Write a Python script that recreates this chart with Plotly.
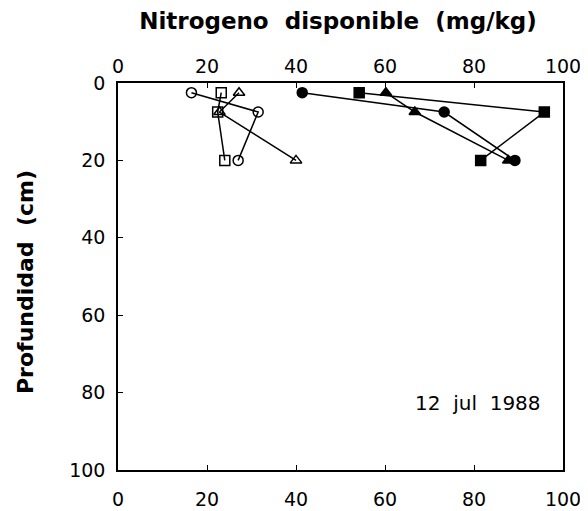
import plotly.graph_objects as go

depth = [2.5, 7.5, 20]

open_circle = [16.5, 31.5, 27.0]
open_square = [23.2, 22.4, 24.0]
open_triangle = [27.2, 22.8, 40.0]
filled_circle = [41.4, 73.3, 89.2]
filled_square = [54.2, 95.8, 81.5]
filled_triangle = [60.2, 66.7, 87.7]

tick_vals = [0, 20, 40, 60, 80, 100]
tick_text = ["0", "20", "40", "60", "80", "100"]

series = [
    (open_circle, "circle-open"),
    (open_square, "square-open"),
    (open_triangle, "triangle-up-open"),
    (filled_circle, "circle"),
    (filled_square, "square"),
    (filled_triangle, "triangle-up"),
]

fig = go.Figure()
for xs, sym in series:
    fig.add_trace(go.Scatter(
        x=xs, y=depth, mode="lines+markers",
        line=dict(color="black", width=1.5),
        marker=dict(symbol=sym, size=10, color="black",
                    line=dict(color="black", width=1.5)),
        showlegend=False, xaxis="x", yaxis="y"))

# invisible trace to anchor the top axis
fig.add_trace(go.Scatter(x=[0], y=[0], mode="markers", marker=dict(opacity=0),
                         showlegend=False, hoverinfo="skip", xaxis="x2", yaxis="y"))

tickfont = dict(family="DejaVu Sans", size=19, color="black")

L, R, T, B = 110, 33, 75, 49
W, H = 588, 511
pw = W - L - R
ph = H - T - B

fig.update_layout(
    template="none",
    width=W, height=H,
    margin=dict(l=L, r=R, t=T, b=B),
    paper_bgcolor="white", plot_bgcolor="white",
    xaxis=dict(range=[0, 100], tickvals=tick_vals, ticktext=tick_text,
               showline=True, linecolor="black", linewidth=1.5,
               mirror=True, ticks="inside", ticklen=5, tickcolor="black",
               showgrid=False, zeroline=False, tickfont=tickfont,
               ticklabelstandoff=11, automargin=False),
    xaxis2=dict(range=[0, 100], tickvals=tick_vals, ticktext=tick_text,
                overlaying="x", side="top", matches="x",
                showline=False, ticks="inside", ticklen=5, tickcolor="black",
                showgrid=False, zeroline=False, tickfont=tickfont,
                ticklabelstandoff=5, automargin=False),
    yaxis=dict(range=[100, 0], tickvals=tick_vals, ticktext=tick_text,
               showline=True, linecolor="black", linewidth=1.5,
               mirror=True, ticks="inside", ticklen=5, tickcolor="black",
               showgrid=False, zeroline=False, tickfont=tickfont,
               ticklabelstandoff=7, automargin=False),
    title=dict(text="Nitrogeno  disponible  (mg/kg)", x=330 / W, xanchor="center",
               y=1 - 13 / H, yanchor="middle", yref="container",
               font=dict(family="DejaVu Sans", size=23, color="black", weight="bold")),
    annotations=[
        dict(text="<b>Profundidad  (cm)</b>", xref="paper", yref="paper",
             x=(17 - L) / pw, y=1 - (282 - 8 - T) / ph, textangle=-90,
             showarrow=False, xanchor="center", yanchor="middle",
             font=dict(family="DejaVu Sans", size=22, color="black")),
        dict(text="12  jul  1988", xref="x", yref="y", x=81, y=82.7,
             showarrow=False, xanchor="center", yanchor="middle",
             font=dict(family="DejaVu Sans", size=20, color="black")),
    ],
)

fig.write_html("out.html")
